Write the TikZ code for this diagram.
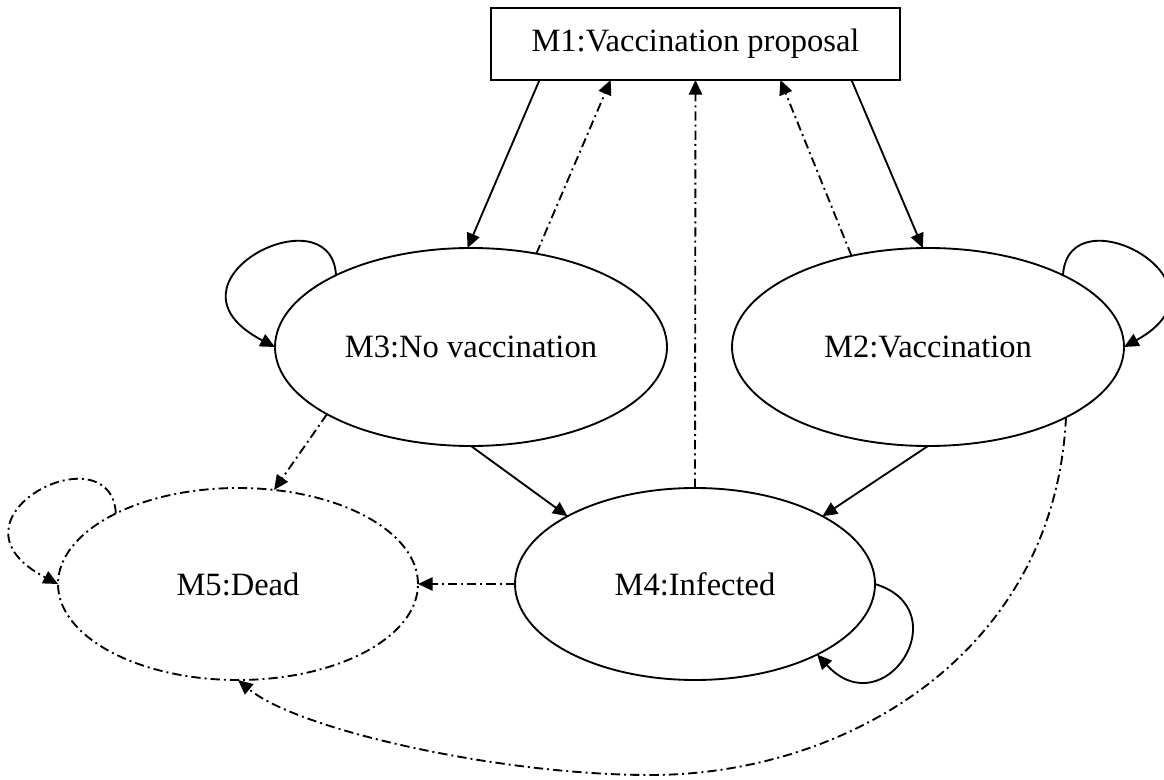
\documentclass[tikz,border=0pt]{standalone}
\usepackage{fontspec}
\setmainfont{Liberation Serif}
\usetikzlibrary{shapes.geometric,arrows.meta}
\tikzset{
  big/.style={ellipse, draw, line width=1.4pt, inner sep=0pt, outer sep=0pt,
    minimum width=294pt, minimum height=148.5pt},
  small/.style={ellipse, draw, line width=1.4pt, inner sep=0pt, outer sep=0pt,
    minimum width=270pt, minimum height=144pt},
  dd/.style={line width=1.4pt, dash pattern=on 7pt off 3pt on 1.5pt off 3pt},
  go/.style={line width=1.4pt, -{Triangle[length=11pt,width=10pt]}},
}
\begin{document}
\begin{tikzpicture}[x=0.75pt, y=-0.75pt, font=\fontsize{24.4}{29}\selectfont]
\useasboundingbox (0,0) rectangle (1164,780);
% states
\node (m1) [draw, line width=1.4pt, outer sep=0pt, minimum width=306.75pt, minimum height=54pt]
  at (695.5,44) {M1:Vaccination proposal};
\node (m3) [big] at (471,347) {M3:No vaccination};
\node (m2) [big] at (928,347) {M2:Vaccination};
\node (m4) [small] at (695,584) {M4:Infected};
\node (m5) [small, dd] at (238,584) {M5:Dead};
\coordinate (low) at (650,775);
% solid moves
\draw[go] (m1.193) -- (m3.92);
\draw[go] (m1.-13) -- (m2.93);
\draw[go] (m3.south) -- (m4.152);
\draw[go] (m2.south) -- (m4.28);
% dash-dot moves
\draw[go, dd] (m3.55) -- (m1.203);
\draw[go, dd] (m4.north) -- (m1.south);
\draw[go, dd] (m2.130) -- (m1.-23);
\draw[go, dd] (m3.205) -- (m5.69);
\draw[go, dd] (m4.west) -- (m5.east);
\draw[go, dd] (m2.-27) .. controls +(-11,233) and +(200,0) .. (low)
  .. controls +(-150,0) and +(60,50) .. (m5.south);
% loops
\draw[go] (m3.152) .. controls +(-5,-85) and +(-125,-65) .. (m3.west);
\draw[go] (m2.28) .. controls +(5,-85) and +(118,-65) .. (m2.east);
\draw[go] (m4.east) .. controls +(85,26) and +(67,73) .. (m4.-30);
\draw[go, dd] (m5.150) .. controls +(-5,-85) and +(-125,-65) .. (m5.west);
\end{tikzpicture}
\end{document}
